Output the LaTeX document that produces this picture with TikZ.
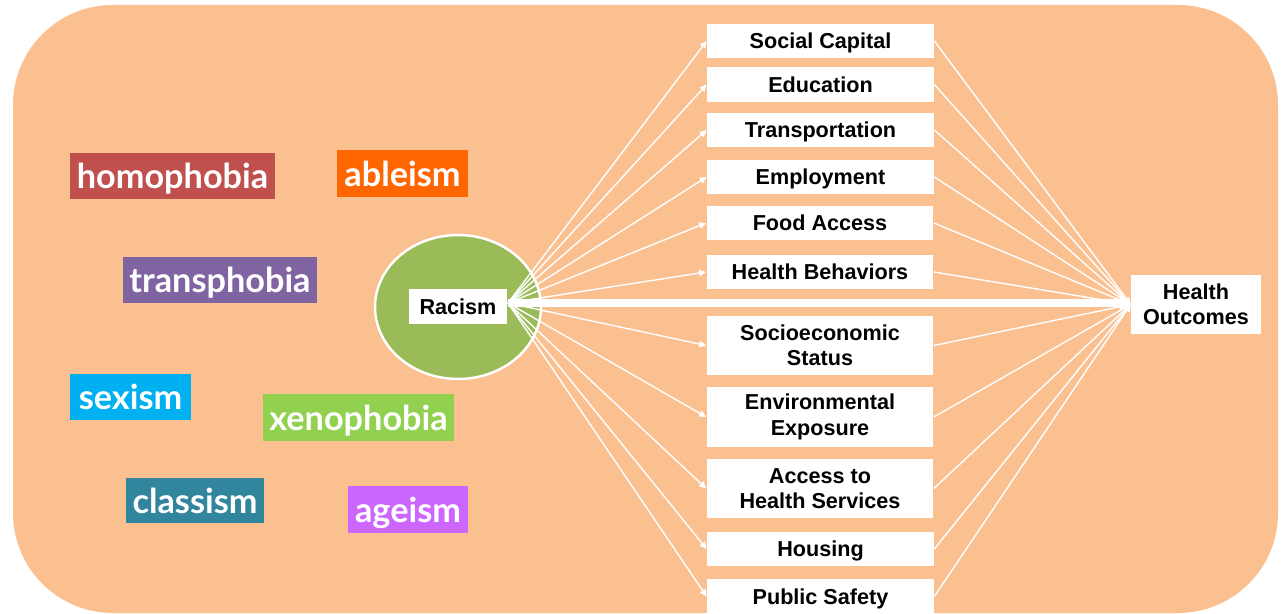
\documentclass[tikz,border=0pt]{standalone}
\usepackage{fontspec}
\setmainfont{Liberation Sans}
\newfontfamily\gill{Lato}
\usetikzlibrary{arrows.meta,shapes.geometric}
\definecolor{bg}{HTML}{FAC090}
\definecolor{chomo}{HTML}{C0504D}
\definecolor{cable}{HTML}{FF6600}
\definecolor{ctrans}{HTML}{8064A2}
\definecolor{csex}{HTML}{00B0F0}
\definecolor{cxeno}{HTML}{92D050}
\definecolor{cclass}{HTML}{31859C}
\definecolor{cage}{HTML}{CC66FF}
\definecolor{cgreen}{HTML}{9BBB59}
\tikzset{
  tag/.style={inner sep=0pt, text=white, text depth=0pt, font=\gill\bfseries\fontsize{19.5}{22}\selectfont},
  factor/.style={fill=white, inner sep=0pt, minimum width=4.54cm, align=center,
     font=\bfseries\fontsize{12.3}{14.4}\selectfont},
  onefactor/.style={factor, text depth=0pt, minimum height=0.68cm},
  link/.style={white, line width=0.8pt, -{Triangle[length=0.14cm,width=0.13cm]}},
}
\begin{document}
\begin{tikzpicture}[x=0.02cm,y=-0.02cm]
\useasboundingbox (0,0) rectangle (1281,614);
\fill[bg, rounded corners=2cm] (13,5) rectangle (1278,613);

% left labels
\node[tag, fill=chomo, minimum width=4.10cm, minimum height=0.92cm] (homo) at (172.5,176) {homophobia};
\node[tag, fill=cable, minimum width=2.62cm, minimum height=0.94cm] (able) at (402.5,173.5) {ableism};
\node[tag, fill=ctrans, minimum width=3.88cm, minimum height=0.92cm] (trans) at (220,280) {transphobia};
\node[tag, fill=csex, minimum width=2.42cm, minimum height=0.92cm] (sex) at (130.5,397) {sexism};
\node[tag, fill=cxeno, minimum width=3.82cm, minimum height=0.94cm] (xeno) at (358.5,417.5) {xenophobia};
\node[tag, fill=cclass, minimum width=2.76cm, minimum height=0.90cm] (class) at (195,500.5) {classism};
\node[tag, fill=cage, minimum width=2.40cm, minimum height=0.94cm] (age) at (408,509.5) {ageism};

% racism
\node[ellipse, fill=cgreen, draw=white, line width=1.4pt, minimum width=3.32cm, minimum height=2.88cm] (circ) at (458,307) {};
\node[fill=white, inner sep=0pt, text depth=0pt, minimum width=1.96cm, minimum height=0.70cm, font=\bfseries\fontsize{12.3}{14.4}\selectfont] (rac) at (458,306.5) {Racism};
\coordinate (src) at (508,303);

% factors
\node[onefactor] (f1) at (820.5,41) {Social Capital};
\node[onefactor, minimum height=0.70cm] (f2) at (820.5,84.5) {Education};
\node[onefactor] (f3) at (820.5,130) {Transportation};
\node[onefactor] (f4) at (820.5,177) {Employment};
\node[onefactor] (f5) at (820,223) {Food Access};
\node[onefactor] (f6) at (820,272) {Health Behaviors};
\node[factor, minimum height=1.18cm] (f7) at (820,345.5) {Socioeconomic\\Status};
\node[factor, minimum height=1.20cm] (f8) at (820,417) {Environmental\\Exposure};
\node[factor, minimum height=1.18cm] (f9) at (820,488.5) {Access to\\Health Services};
\node[onefactor] (f10) at (820.5,549) {Housing};
\node[onefactor, minimum height=0.70cm] (f11) at (820.5,596.5) {Public Safety};

\node[fill=white, inner sep=0pt, minimum width=2.60cm, minimum height=1.18cm, align=center,
  font=\bfseries\fontsize{12.3}{14.4}\selectfont] (ho) at (1196,304.5) {Health\\Outcomes};

% connectors
\foreach \f in {f1,f2,f3,f4,f5,f6,f7,f8,f9,f10,f11}{
  \draw[link] (src) -- (\f.west);
  \draw[link] (\f.east) -- (ho.west);
}
\draw[white, line width=4pt, -{Triangle[length=0.22cm,width=0.34cm]}] (src) -- (ho.west |- src);
\end{tikzpicture}
\end{document}
